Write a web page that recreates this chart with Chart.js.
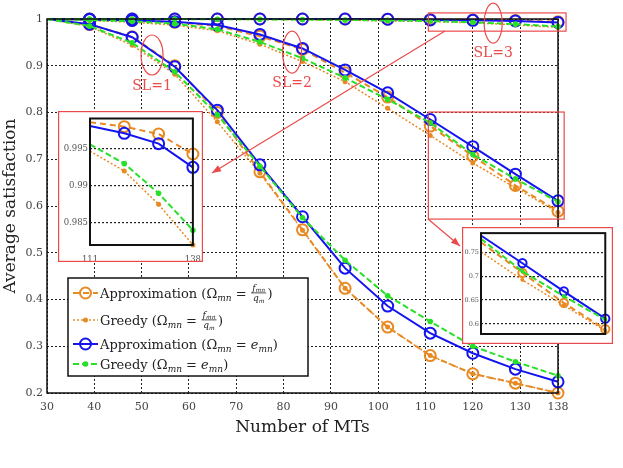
<!DOCTYPE html>
<html>
<head>
<meta charset="utf-8">
<script src="https://cdn.jsdelivr.net/npm/chart.js@4.4.1/dist/chart.umd.min.js"></script>
<style>
  body { margin: 0; background: #fff; }
  #wrap { position: relative; width: 623px; height: 468px; }
  canvas { position: absolute; }
</style>
</head>
<body>
<div id="wrap">
  <canvas id="mainChart" width="623" height="468" style="left:0;top:0"></canvas>
  <canvas id="zoomSL3" width="145" height="151" style="left:58px;top:111px"></canvas>
  <canvas id="zoomSL2" width="151" height="117" style="left:462px;top:227px"></canvas>
</div>
<script>
// number of MTs (x values)
const mts = [30, 39, 48, 57, 66, 75, 84, 93, 102, 111, 120, 129, 138];
const xTicks = [30, 40, 50, 60, 70, 80, 90, 100, 110, 120, 130, 138];
const yTicks = [0.2, 0.3, 0.4, 0.5, 0.6, 0.7, 0.8, 0.9, 1];

// SL = 1
const sl1ApproxF = [1, 0.988, 0.962, 0.900, 0.800, 0.673, 0.549, 0.424, 0.341, 0.280, 0.241, 0.221, 0.200];
const sl1GreedyF = [1, 0.984, 0.944, 0.882, 0.780, 0.670, 0.548, 0.424, 0.341, 0.280, 0.241, 0.221, 0.200];
const sl1ApproxE = [1, 0.989, 0.961, 0.898, 0.805, 0.688, 0.577, 0.467, 0.386, 0.328, 0.285, 0.251, 0.224];
const sl1GreedyE = [1, 0.985, 0.949, 0.887, 0.795, 0.685, 0.575, 0.484, 0.408, 0.353, 0.300, 0.267, 0.237];

// SL = 2
const sl2ApproxF = [1, 0.999, 0.997, 0.993, 0.985, 0.963, 0.935, 0.885, 0.833, 0.771, 0.707, 0.644, 0.589];
const sl2GreedyF = [1, 0.997, 0.993, 0.987, 0.975, 0.946, 0.909, 0.866, 0.809, 0.751, 0.692, 0.639, 0.586];
const sl2ApproxE = [1, 0.999, 0.997, 0.994, 0.987, 0.967, 0.937, 0.891, 0.842, 0.785, 0.727, 0.668, 0.611];
const sl2GreedyE = [1, 0.998, 0.995, 0.990, 0.978, 0.951, 0.916, 0.874, 0.828, 0.778, 0.710, 0.658, 0.609];

// SL = 3
const sl3ApproxF = [1, 1, 1, 1, 1, 1, 1, 1, 0.9997, 0.9986, 0.9980, 0.9970, 0.9943];
const sl3GreedyF = [1, 1, 0.9999, 0.9997, 0.9994, 0.9990, 0.9984, 0.9974, 0.9960, 0.9947, 0.9920, 0.9875, 0.9820];
const sl3ApproxE = [1, 1, 1, 1, 1, 1, 1, 1, 0.9995, 0.9981, 0.9971, 0.9957, 0.9925];
const sl3GreedyE = [1, 1, 0.9999, 0.9998, 0.9996, 0.9993, 0.9988, 0.9980, 0.9970, 0.9956, 0.9930, 0.9890, 0.9840];

// zoomed insets
const zoomFrom = 9; // index of 111
const zoomSL3Ticks = [0.985, 0.99, 0.995];
const zoomSL2Ticks = [0.6, 0.65, 0.7, 0.75];

const ORANGE = '#e88a24';
const BLUE = '#1414f0';
const GREEN = '#28e028';
const RED = '#ea4a4a';
const SERIF = '"DejaVu Serif", serif';

function pts(vals, from) {
    return vals.slice(from || 0).map((v, i) => ({ x: mts[i + (from || 0)], y: v }));
}

// style for the four algorithms, r = marker scale
function styles(r) {
    return [
        { order: 4, borderColor: ORANGE, borderWidth: 2, borderDash: [6, 4], pointRadius: 5.5 * r, pointBorderWidth: 2, pointBackgroundColor: 'rgba(0,0,0,0)', pointBorderColor: ORANGE },
        { order: 3, borderColor: ORANGE, borderWidth: 1.5, borderDash: [2, 2], pointRadius: 2.5 * r, pointBorderWidth: 0, pointBackgroundColor: ORANGE },
        { order: 2, borderColor: BLUE, borderWidth: 2, borderDash: [], pointRadius: 5.5 * r, pointBorderWidth: 2, pointBackgroundColor: 'rgba(0,0,0,0)', pointBorderColor: BLUE },
        { order: 1, borderColor: GREEN, borderWidth: 2, borderDash: [6, 3], pointRadius: 2.8 * r, pointBorderWidth: 0, pointBackgroundColor: GREEN }
    ];
}

function makeSets(group, from, r) {
    const st = styles(r);
    return group.map((vals, k) => {
        const s = st[k];
        const rad = s.pointRadius;
        return Object.assign({}, s, {
            data: pts(vals, from),
            fill: false,
            tension: 0,
            clip: false,
            pointRadius: c => c.dataIndex === 0 ? 0 : rad,
            pointHoverRadius: rad
        });
    });
}

const mainSets = []
    .concat(makeSets([sl1ApproxF, sl1GreedyF, sl1ApproxE, sl1GreedyE], 0, 1))
    .concat(makeSets([sl2ApproxF, sl2GreedyF, sl2ApproxE, sl2GreedyE], 0, 1))
    .concat(makeSets([sl3ApproxF, sl3GreedyF, sl3ApproxE, sl3GreedyE], 0, 1));

// legend text pieces
const N = '13px ' + SERIF;
const IT = 'italic 13px ' + SERIF;
const SUB = 'italic 9px ' + SERIF;
const legendRows = [
    [['Approximation (Ω', N], ['mn', SUB, 3], [' = ', N], ['frac'], [')', N]],
    [['Greedy (Ω', N], ['mn', SUB, 3], [' = ', N], ['frac'], [')', N]],
    [['Approximation (Ω', N], ['mn', SUB, 3], [' = ', N], ['e', IT], ['mn', SUB, 3], [')', N]],
    [['Greedy (Ω', N], ['mn', SUB, 3], [' = ', N], ['e', IT], ['mn', SUB, 3], [')', N]]
];

function drawFrac(c, x, base) {
    c.font = 'italic 9px ' + SERIF;
    const wf = c.measureText('f').width;
    const wq = c.measureText('q').width;
    c.font = 'italic 6px ' + SERIF;
    const wmn = c.measureText('mn').width;
    const wm = c.measureText('m').width;
    const w = Math.max(wf + wmn, wq + wm) + 3;
    c.font = 'italic 9px ' + SERIF;
    c.fillText('f', x + (w - wf - wmn) / 2, base - 7);
    c.fillText('q', x + (w - wq - wm) / 2, base + 3.5);
    c.font = 'italic 6px ' + SERIF;
    c.fillText('mn', x + (w - wf - wmn) / 2 + wf, base - 5.5);
    c.fillText('m', x + (w - wq - wm) / 2 + wq, base + 5);
    c.fillRect(x + 0.5, base - 5, w - 1, 0.8);
    return x + w;
}

function drawRow(c, parts, x, base) {
    for (const p of parts) {
        if (p[0] === 'frac') { x = drawFrac(c, x, base) + 1; continue; }
        c.font = p[1];
        c.fillText(p[0], x, base + (p[2] || 0));
        x += c.measureText(p[0]).width;
    }
}

function arrow(c, x1, y1, x2, y2) {
    c.beginPath();
    c.moveTo(x1, y1);
    c.lineTo(x2, y2);
    c.stroke();
    const ang = Math.atan2(y2 - y1, x2 - x1);
    const L = 9, W = 3.5;
    c.beginPath();
    c.moveTo(x2, y2);
    c.lineTo(x2 - L * Math.cos(ang) + W * Math.sin(ang), y2 - L * Math.sin(ang) - W * Math.cos(ang));
    c.lineTo(x2 - L * Math.cos(ang) - W * Math.sin(ang), y2 - L * Math.sin(ang) + W * Math.cos(ang));
    c.closePath();
    c.fill();
}

const overlay = {
    id: 'overlay',
    afterDatasetsDraw(chart) {
        const c = chart.ctx, a = chart.chartArea;
        const xs = chart.scales.x, ys = chart.scales.y;
        c.save();
        c.strokeStyle = '#111';
        c.lineWidth = 1.5;
        c.strokeRect(a.left, a.top, a.right - a.left, a.bottom - a.top);

        // red zoom boxes, ellipses, labels and arrows
        c.strokeStyle = RED;
        c.fillStyle = RED;
        c.lineWidth = 1.2;
        c.strokeRect(xs.getPixelForValue(110.6), ys.getPixelForValue(1.013), xs.getPixelForValue(139.7) - xs.getPixelForValue(110.6), ys.getPixelForValue(0.974) - ys.getPixelForValue(1.013));
        c.strokeRect(xs.getPixelForValue(110.6), ys.getPixelForValue(0.801), xs.getPixelForValue(139.3) - xs.getPixelForValue(110.6), ys.getPixelForValue(0.572) - ys.getPixelForValue(0.801));
        const ells = [[52.2, 0.923, 11, 20, 'SL=1', 31], [81.8, 0.929, 9.5, 21, 'SL=2', 31], [124.3, 0.991, 9, 20, 'SL=3', 30]];
        c.font = '14px ' + SERIF;
        c.textAlign = 'center';
        c.textBaseline = 'middle';
        for (const e of ells) {
            const cx = xs.getPixelForValue(e[0]), cy = ys.getPixelForValue(e[1]);
            c.beginPath();
            c.ellipse(cx, cy, e[2], e[3], 0, 0, Math.PI * 2);
            c.stroke();
            c.fillText(e[4], cx, cy + e[5]);
        }
        arrow(c, 445, 31, 212, 173);
        arrow(c, 428, 219, 460, 246);

        // legend
        const lx = 68, ly = 278, lw = 240, lh = 98;
        c.fillStyle = '#fff';
        c.fillRect(lx, ly, lw, lh);
        c.strokeStyle = '#111';
        c.lineWidth = 1.5;
        c.strokeRect(lx, ly, lw, lh);
        const st = styles(1);
        const rowsY = [293, 320, 344, 364];
        c.textAlign = 'left';
        c.textBaseline = 'alphabetic';
        for (let i = 0; i < 4; i++) {
            const s = st[i], y = rowsY[i];
            c.strokeStyle = s.borderColor;
            c.lineWidth = s.borderWidth;
            c.setLineDash(s.borderDash);
            c.beginPath();
            c.moveTo(73, y);
            c.lineTo(98, y);
            c.stroke();
            c.setLineDash([]);
            c.beginPath();
            c.arc(85.5, y, s.pointRadius, 0, Math.PI * 2);
            if (s.pointBorderWidth) { c.lineWidth = 2; c.strokeStyle = s.pointBorderColor; c.stroke(); }
            else { c.fillStyle = s.pointBackgroundColor; c.fill(); }
            c.fillStyle = '#222';
            drawRow(c, legendRows[i], 100, y + 4.5);
        }
        c.restore();
    }
};

new Chart(document.getElementById('mainChart'), {
    type: 'line',
    data: { datasets: mainSets },
    plugins: [overlay],
    options: {
        responsive: false,
        animation: false,
        events: [],
        layout: { padding: { top: 19, right: 65, left: 0, bottom: 0 } },
        plugins: { legend: { display: false }, tooltip: { enabled: false } },
        scales: {
            x: {
                type: 'linear', min: 30, max: 138,
                afterBuildTicks: s => { s.ticks = xTicks.map(v => ({ value: v })); },
                afterFit: s => { s.height = 75; },
                grid: { color: '#222', lineWidth: 1, drawTicks: false, borderDash: [2, 2] },
                border: { display: false, dash: [2, 2] },
                ticks: { color: '#444', font: { family: SERIF, size: 11 }, padding: 8, maxRotation: 0 },
                title: { display: true, text: 'Number of MTs', color: '#222', font: { family: SERIF, size: 17 }, padding: { top: 0, bottom: 30 } }
            },
            y: {
                type: 'linear', min: 0.2, max: 1,
                afterBuildTicks: s => { s.ticks = yTicks.map(v => ({ value: v })); },
                afterFit: s => { s.width = 47; },
                grid: { color: '#222', lineWidth: 1, drawTicks: false, borderDash: [2, 2] },
                border: { display: false, dash: [2, 2] },
                ticks: { color: '#444', font: { family: SERIF, size: 11 }, padding: 4, callback: v => String(+v.toFixed(2)) },
                title: { display: true, text: 'Average satisfaction', color: '#222', font: { family: SERIF, size: 17 }, padding: { top: 0, bottom: 0 } }
            }
        }
    }
});

// inset frame: white background, black plot box, red outline
function insetFrame() {
    return {
        id: 'insetFrame',
        beforeDraw(chart) {
            const c = chart.ctx;
            c.save();
            c.fillStyle = '#fff';
            c.fillRect(0, 0, chart.width, chart.height);
            c.restore();
        },
        afterDraw(chart) {
            const c = chart.ctx, a = chart.chartArea;
            c.save();
            c.strokeStyle = '#111';
            c.lineWidth = 2;
            c.strokeRect(a.left, a.top, a.right - a.left, a.bottom - a.top);
            c.strokeStyle = RED;
            c.lineWidth = 1.2;
            c.strokeRect(0.6, 0.6, chart.width - 1.2, chart.height - 1.2);
            c.restore();
        }
    };
}

function makeInset(id, group, yMin, yMax, ticks, r, axisW, axisH, padT, padR, fontY, fontX) {
    new Chart(document.getElementById(id), {
        type: 'line',
        data: { datasets: makeSets(group, zoomFrom, r) },
        plugins: [insetFrame()],
        options: {
            responsive: false,
            animation: false,
            events: [],
            layout: { padding: { top: padT, right: padR, left: 0, bottom: 0 } },
            plugins: { legend: { display: false }, tooltip: { enabled: false } },
            scales: {
                x: {
                    type: 'linear', min: 111, max: 138,
                    afterBuildTicks: s => { s.ticks = [111, 138].map(v => ({ value: v })); },
                    afterFit: s => { s.height = axisH; },
                    grid: { display: false },
                    border: { display: false },
                    ticks: { color: '#555', font: { family: SERIF, size: fontX }, padding: 2, maxRotation: 0 }
                },
                y: {
                    type: 'linear', min: yMin, max: yMax,
                    afterBuildTicks: s => { s.ticks = ticks.map(v => ({ value: v })); },
                    afterFit: s => { s.width = axisW; },
                    grid: { color: '#222', lineWidth: 1.2, drawTicks: false, borderDash: [2, 2] },
                    border: { display: false, dash: [2, 2] },
                    ticks: { color: '#555', font: { family: SERIF, size: fontY }, padding: 2, callback: v => String(+v.toFixed(3)) }
                }
            }
        }
    });
}

makeInset('zoomSL3', [sl3ApproxF, sl3GreedyF, sl3ApproxE, sl3GreedyE], 0.982, 0.9991, zoomSL3Ticks, 1, 32, 17, 6, 6, 8.5, 8.5);
makeInset('zoomSL2', [sl2ApproxF, sl2GreedyF, sl2ApproxE, sl2GreedyE], 0.579, 0.79, zoomSL2Ticks, 0.75, 19, 10, 2, 4, 6.5, 6);
</script>
</body>
</html>
